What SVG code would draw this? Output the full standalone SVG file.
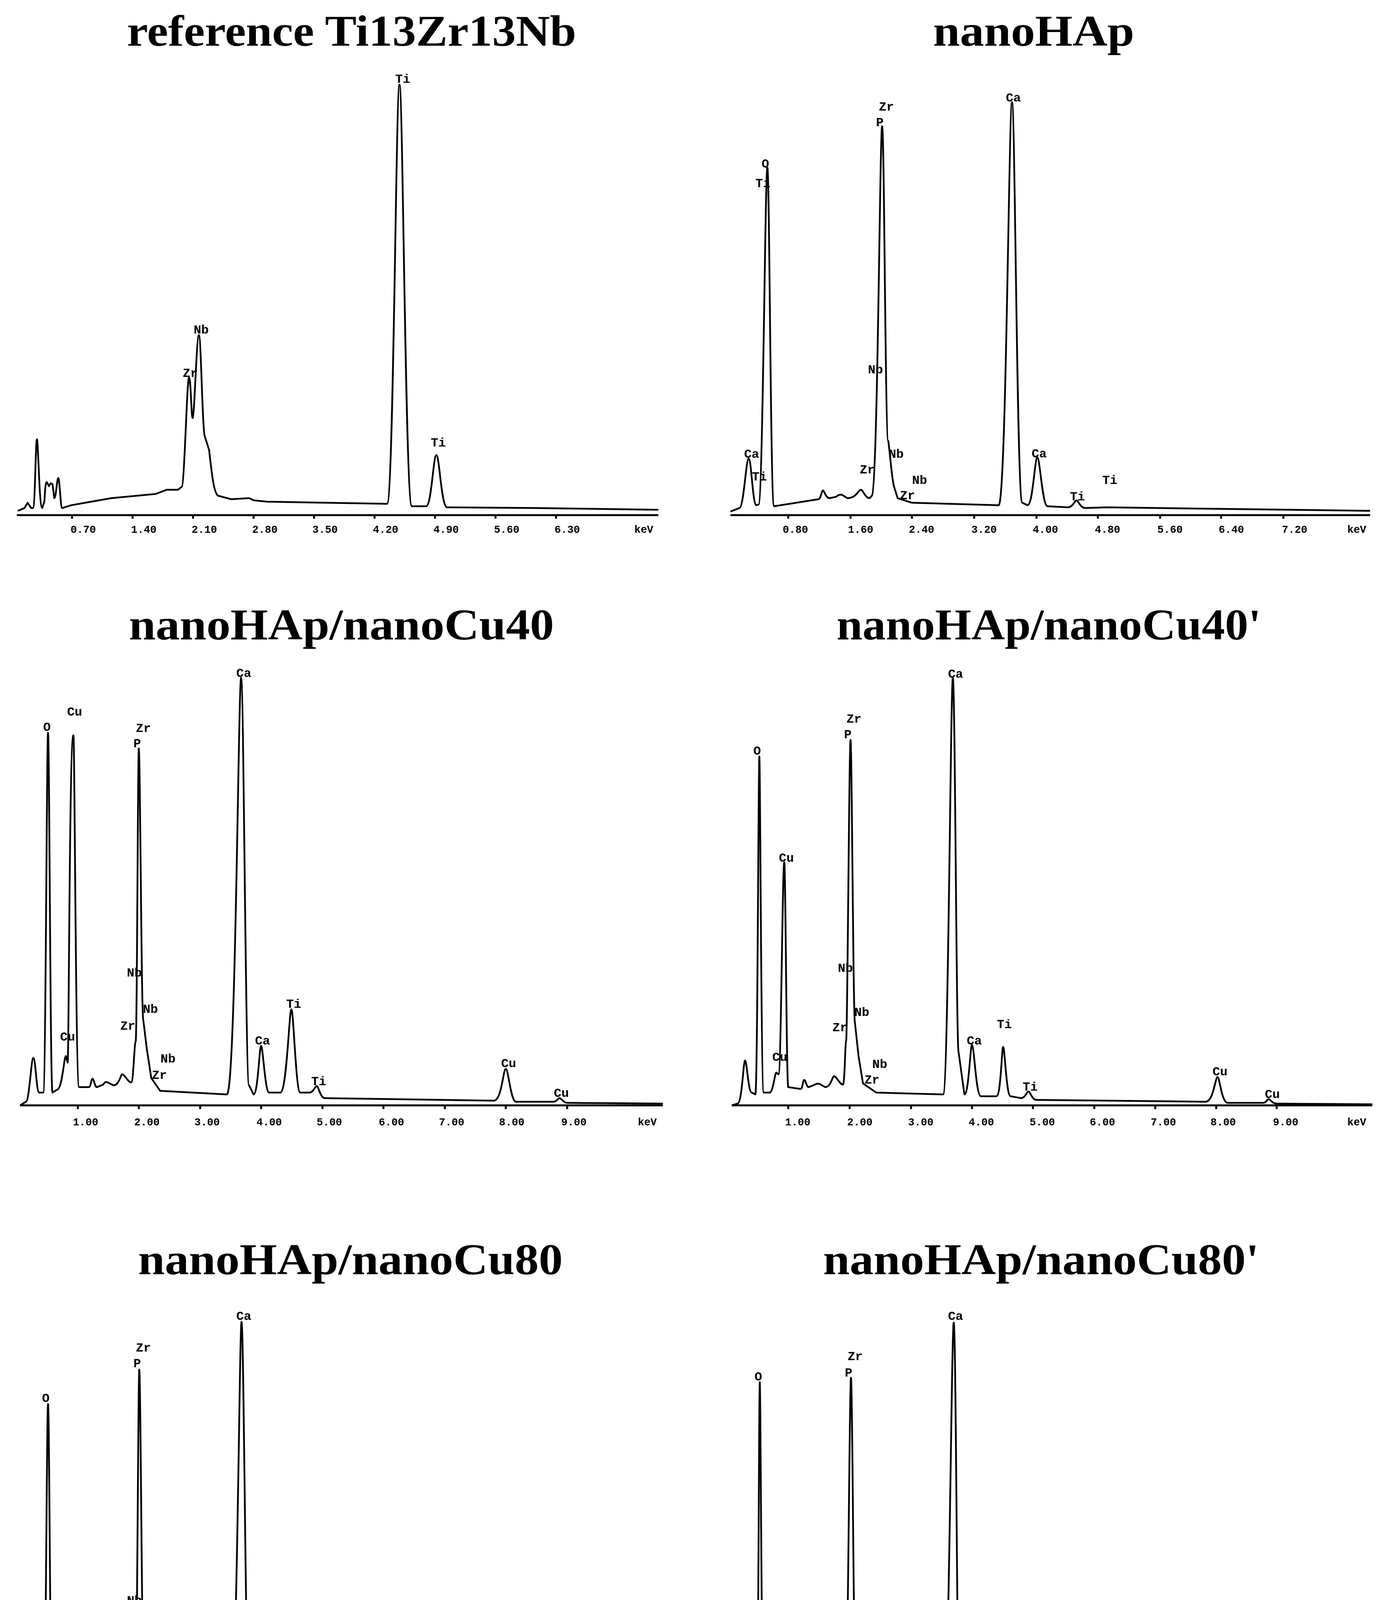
<svg xmlns="http://www.w3.org/2000/svg" width="3530" height="4529" viewBox="0 0 3530 4529">
<style>
.sp{fill:none;stroke:#000;stroke-width:4.5;vector-effect:non-scaling-stroke;stroke-linejoin:round}
.ax{fill:none;stroke:#000;stroke-width:5;vector-effect:non-scaling-stroke}
.ti{font-family:"Liberation Serif",serif;font-weight:bold;font-size:112px;text-anchor:middle}
.lb{font-family:"Liberation Mono",monospace;font-weight:bold;font-size:32px;text-anchor:middle}
.tk{font-family:"Liberation Mono",monospace;font-weight:bold;font-size:27px;text-anchor:middle}
</style>
<rect width="3530" height="4529" fill="#fff"/>

<g id="panel1">
<text class="ti" x="900" y="117" textLength="1150" lengthAdjust="spacingAndGlyphs">reference Ti13Zr13Nb</text>
<g transform="scale(1.1387,0.9032)">
<path class="sp" d="M40,1448 L55,1440 L62,1425 L70,1440 L74,1440 C79,1440 80,1245 83,1245 C86,1245 88,1440 95,1440 L100,1420 C102,1365 104,1365 106,1368 L110,1378 L114,1370 L118,1372 L122,1412 C126,1412 128,1355 131,1355 C134,1355 136,1440 140,1440 L160,1432 L250,1412 L350,1400 L375,1388 L400,1388 L408,1380 C415,1380 420,1070 425,1070 C429,1070 430,1185 433,1185 C437,1185 442,950 447,950 C452,950 455,1220 460,1235 L470,1275 C476,1340 480,1395 490,1405 L520,1415 L560,1412 L570,1418 L600,1422 L870,1428 C885,1428 890,240 898,240 C906,240 911,1435 926,1435 L958,1435 C970,1435 974,1290 981,1290 C988,1290 992,1438 1005,1438 L1200,1440 L1480,1445"/>
<path class="ax" d="M38,1460 H1480 M162,1460 v10 M298,1460 v10 M434,1460 v10 M570,1460 v10 M706,1460 v10 M842,1460 v10 M978,1460 v10 M1114,1460 v10 M1250,1460 v10"/>
</g>
<text class="lb" x="1031" y="212">Ti</text><text class="lb" x="515" y="854">Nb</text><text class="lb" x="487" y="965">Zr</text><text class="lb" x="1122" y="1143">Ti</text>
<text class="tk" y="1364"><tspan x="213">0.70</tspan><tspan x="368">1.40</tspan><tspan x="523">2.10</tspan><tspan x="678">2.80</tspan><tspan x="832">3.50</tspan><tspan x="987">4.20</tspan><tspan x="1142">4.90</tspan><tspan x="1297">5.60</tspan><tspan x="1452">6.30</tspan><tspan x="1648">keV</tspan></text>
</g>

<g id="panel2">
<text class="ti" x="2646" y="117" textLength="515" lengthAdjust="spacingAndGlyphs">nanoHAp</text>
<g transform="translate(1765,0) scale(1.1387,0.9032)">
<path class="sp" d="M92,1450 L112,1440 C122,1440 127,1300 133,1300 C139,1300 142,1430 150,1432 L155,1430 C165,1430 170,475 175,475 C180,475 182,1432 190,1435 L290,1415 C295,1415 297,1390 300,1390 C303,1390 306,1412 315,1412 L330,1408 C335,1402 338,1402 342,1402 L355,1412 C375,1412 380,1388 385,1388 C390,1388 395,1412 405,1412 L410,1405 C423,1390 428,358 433,358 C438,358 440,1250 447,1250 C452,1300 455,1360 460,1380 L468,1412 L500,1425 L695,1432 C712,1432 718,290 725,290 C732,290 736,1420 748,1425 L760,1432 C772,1432 776,1297 782,1297 C788,1297 793,1435 805,1435 L850,1438 C862,1438 866,1418 870,1418 C874,1418 878,1440 890,1440 L940,1438 L1530,1448"/>
<path class="ax" d="M92,1460 H1530 M222,1460 v10 M362,1460 v10 M500,1460 v10 M640,1460 v10 M780,1460 v10 M918,1460 v10 M1058,1460 v10 M1195,1460 v10 M1335,1460 v10"/>
</g>
<text class="lb" x="1959" y="429">O</text><text class="lb" x="1953" y="479">Ti</text><text class="lb" x="2269" y="283">Zr</text><text class="lb" x="2252" y="323">P</text><text class="lb" x="2594" y="260">Ca</text><text class="lb" x="2241" y="956">Nb</text><text class="lb" x="1924" y="1172">Ca</text><text class="lb" x="1944" y="1230">Ti</text><text class="lb" x="2220" y="1212">Zr</text><text class="lb" x="2294" y="1172">Nb</text><text class="lb" x="2354" y="1239">Nb</text><text class="lb" x="2323" y="1278">Zr</text><text class="lb" x="2660" y="1171">Ca</text><text class="lb" x="2758" y="1281">Ti</text><text class="lb" x="2841" y="1239">Ti</text>
<text class="tk" y="1364"><tspan x="2036">0.80</tspan><tspan x="2203">1.60</tspan><tspan x="2359">2.40</tspan><tspan x="2519">3.20</tspan><tspan x="2676">4.00</tspan><tspan x="2835">4.80</tspan><tspan x="2995">5.60</tspan><tspan x="3152">6.40</tspan><tspan x="3314">7.20</tspan><tspan x="3473">keV</tspan></text>
</g>

<g id="panel3">
<text class="ti" x="874" y="1637" textLength="1088" lengthAdjust="spacingAndGlyphs">nanoHAp/nanoCu40</text>
<g transform="translate(0,1450) scale(1.1387,0.9355)">
<path class="sp" d="M45,1475 L58,1465 C66,1465 70,1345 75,1345 C80,1345 82,1440 88,1440 L97,1440 C103,1440 105,455 108,455 C111,455 113,1440 118,1440 L128,1432 C140,1432 144,1340 148,1340 L152,1358 C155,1358 156,462 165,462 C168,462 170,1425 178,1425 L200,1425 C204,1425 205,1402 208,1402 C211,1402 213,1425 218,1425 L232,1418 C236,1410 238,1410 242,1412 L255,1420 C268,1420 271,1390 275,1390 C280,1390 288,1412 295,1412 C300,1412 302,1300 305,1300 C308,1300 310,498 312,498 C315,498 318,1240 322,1240 L330,1320 L340,1400 L360,1435 L510,1445 C530,1445 536,305 542,305 C548,305 552,1420 560,1420 L570,1445 C580,1445 583,1312 587,1312 C591,1312 596,1440 605,1440 L630,1440 C645,1440 650,1212 655,1212 C660,1212 665,1440 675,1440 L695,1440 C705,1440 708,1422 712,1422 C716,1422 720,1455 730,1455 L1110,1462 C1128,1462 1131,1375 1137,1375 C1143,1375 1148,1465 1160,1465 L1245,1465 C1252,1465 1254,1455 1258,1455 C1262,1455 1266,1468 1275,1468 L1490,1470"/>
<path class="ax" d="M45,1475 H1490 M175,1475 v10 M312,1475 v10 M450,1475 v10 M587,1475 v10 M725,1475 v10 M862,1475 v10 M1000,1475 v10 M1137,1475 v10 M1275,1475 v10"/>
</g>
<text class="lb" x="191" y="1832">Cu</text><text class="lb" x="120" y="1871">O</text><text class="lb" x="367" y="1874">Zr</text><text class="lb" x="351" y="1913">P</text><text class="lb" x="624" y="1733">Ca</text><text class="lb" x="344" y="2500">Nb</text><text class="lb" x="385" y="2593">Nb</text><text class="lb" x="327" y="2636">Zr</text><text class="lb" x="173" y="2664">Cu</text><text class="lb" x="430" y="2720">Nb</text><text class="lb" x="408" y="2762">Zr</text><text class="lb" x="672" y="2674">Ca</text><text class="lb" x="752" y="2580">Ti</text><text class="lb" x="816" y="2778">Ti</text><text class="lb" x="1302" y="2732">Cu</text><text class="lb" x="1437" y="2808">Cu</text>
<text class="tk" y="2881"><tspan x="219">1.00</tspan><tspan x="376">2.00</tspan><tspan x="530">3.00</tspan><tspan x="689">4.00</tspan><tspan x="843">5.00</tspan><tspan x="1002">6.00</tspan><tspan x="1156">7.00</tspan><tspan x="1310">8.00</tspan><tspan x="1469">9.00</tspan><tspan x="1657">keV</tspan></text>
</g>

<g id="panel4">
<text class="ti" x="2685" y="1637" textLength="1087" lengthAdjust="spacingAndGlyphs">nanoHAp/nanoCu40'</text>
<g transform="translate(1765,1450) scale(1.1387,0.9355)">
<path class="sp" d="M95,1475 L108,1470 C118,1470 121,1352 125,1352 C129,1352 132,1440 140,1440 L148,1445 C153,1445 155,520 157,520 C159,520 161,1440 167,1440 L180,1440 C188,1440 192,1385 195,1385 L200,1390 C206,1390 209,810 213,810 C216,810 218,1425 222,1425 L250,1430 C254,1430 255,1405 258,1405 C261,1405 263,1425 268,1425 L282,1418 C286,1415 288,1415 292,1416 L305,1425 C318,1425 321,1395 325,1395 C330,1395 338,1418 345,1418 C349,1418 350,1300 352,1300 C355,1300 359,475 362,475 C365,475 368,1250 372,1250 L380,1340 L390,1415 L420,1440 L570,1445 C582,1445 587,305 592,305 C597,305 600,1330 605,1330 L618,1445 C628,1445 631,1310 635,1310 C640,1310 644,1450 655,1450 L690,1450 C700,1450 702,1315 705,1315 C709,1315 712,1450 722,1450 L745,1455 C755,1455 758,1437 762,1437 C766,1437 770,1460 780,1460 L1160,1465 C1178,1465 1182,1397 1187,1397 C1192,1397 1196,1468 1210,1468 L1290,1468 C1297,1468 1298,1458 1302,1458 C1306,1458 1309,1470 1320,1470 L1535,1472"/>
<path class="ax" d="M95,1475 H1535 M222,1475 v10 M360,1475 v10 M498,1475 v10 M635,1475 v10 M772,1475 v10 M910,1475 v10 M1047,1475 v10 M1184,1475 v10 M1320,1475 v10"/>
</g>
<text class="lb" x="2446" y="1735">Ca</text><text class="lb" x="2186" y="1850">Zr</text><text class="lb" x="2170" y="1890">P</text><text class="lb" x="1938" y="1932">O</text><text class="lb" x="2013" y="2206">Cu</text><text class="lb" x="2164" y="2488">Nb</text><text class="lb" x="2206" y="2601">Nb</text><text class="lb" x="2150" y="2640">Zr</text><text class="lb" x="1996" y="2716">Cu</text><text class="lb" x="2252" y="2734">Nb</text><text class="lb" x="2232" y="2774">Zr</text><text class="lb" x="2494" y="2674">Ca</text><text class="lb" x="2571" y="2632">Ti</text><text class="lb" x="2637" y="2792">Ti</text><text class="lb" x="3123" y="2753">Cu</text><text class="lb" x="3257" y="2811">Cu</text>
<text class="tk" y="2881"><tspan x="2042">1.00</tspan><tspan x="2201">2.00</tspan><tspan x="2357">3.00</tspan><tspan x="2512">4.00</tspan><tspan x="2668">5.00</tspan><tspan x="2822">6.00</tspan><tspan x="2978">7.00</tspan><tspan x="3131">8.00</tspan><tspan x="3291">9.00</tspan><tspan x="3473">keV</tspan></text>
</g>

<g id="panel5">
<text class="ti" x="897" y="3262" textLength="1087" lengthAdjust="spacingAndGlyphs">nanoHAp/nanoCu80</text>
<g transform="translate(0,3050) scale(1.1387,0.9542)">
<path class="sp" d="M45,1472 L58,1462 C66,1462 69,1350 73,1350 C77,1350 80,1440 85,1440 L97,1445 C103,1445 105,570 108,570 C111,570 113,1445 118,1445 L135,1440 L148,1430 L155,1400 C160,1400 162,1305 165,1305 C168,1305 170,1430 175,1430 L200,1428 C204,1428 205,1405 208,1405 C211,1405 214,1428 220,1428 L232,1420 C236,1415 238,1415 242,1416 L255,1425 C268,1425 271,1392 275,1392 C280,1392 288,1420 295,1420 C300,1420 302,1300 305,1300 C308,1300 311,478 313,478 C316,478 319,1230 322,1230 L330,1330 L340,1405 L360,1438 L515,1445 C533,1445 538,350 543,350 C548,350 553,1400 560,1400 L570,1445 C580,1445 583,1320 587,1320 C591,1320 596,1445 605,1445 L635,1445 C645,1445 650,1315 655,1315 C660,1315 665,1448 675,1448 L695,1450 C705,1450 708,1440 712,1440 C716,1440 720,1458 730,1458 L1115,1465 C1128,1465 1132,1448 1137,1448 C1142,1448 1148,1466 1160,1466 L1250,1466 L1258,1462 L1270,1468 L1490,1470"/>
<path class="ax" d="M45,1470 H1490 M172,1470 v10 M310,1470 v10 M448,1470 v10 M585,1470 v10 M722,1470 v10 M860,1470 v10 M997,1470 v10 M1135,1470 v10 M1272,1470 v10"/>
</g>
<text class="lb" x="624" y="3379">Ca</text><text class="lb" x="367" y="3460">Zr</text><text class="lb" x="351" y="3500">P</text><text class="lb" x="117" y="3589">O</text><text class="lb" x="344" y="4107">Nb</text><text class="lb" x="327" y="4212">Zr</text><text class="lb" x="191" y="4290">Cu</text><text class="lb" x="385" y="4281">Nb</text><text class="lb" x="430" y="4359">Nb</text><text class="lb" x="176" y="4403">Cu</text><text class="lb" x="408" y="4403">Zr</text><text class="lb" x="672" y="4305">Ca</text><text class="lb" x="752" y="4264">Ti</text><text class="lb" x="816" y="4419">Ti</text><text class="lb" x="1304" y="4429">Cu</text><text class="lb" x="1437" y="4445">Cu</text>
<text class="tk" y="4505"><tspan x="219">1.00</tspan><tspan x="376">2.00</tspan><tspan x="530">3.00</tspan><tspan x="683">4.00</tspan><tspan x="843">5.00</tspan><tspan x="996">6.00</tspan><tspan x="1152">7.00</tspan><tspan x="1310">8.00</tspan><tspan x="1466">9.00</tspan><tspan x="1657">keV</tspan></text>
</g>

<g id="panel6">
<text class="ti" x="2665" y="3262" textLength="1116" lengthAdjust="spacingAndGlyphs">nanoHAp/nanoCu80'</text>
<g transform="translate(1765,3050) scale(1.1387,0.9542)">
<path class="sp" d="M95,1472 L108,1465 C118,1465 122,1340 126,1340 C130,1340 133,1440 140,1440 L150,1440 C155,1440 156,512 158,512 C160,512 162,1445 168,1445 L185,1440 L198,1410 L205,1412 C211,1412 213,1185 215,1185 C217,1185 219,1425 224,1425 L250,1425 C254,1425 255,1402 258,1402 C261,1402 264,1425 270,1425 L282,1416 C286,1412 288,1412 292,1413 L305,1420 C318,1420 321,1388 325,1388 C330,1388 338,1418 345,1418 C349,1418 350,1300 352,1300 C356,1300 360,500 363,500 C366,500 369,1230 372,1230 L380,1330 L395,1420 L425,1438 L570,1445 C583,1445 589,352 594,352 C599,352 602,1380 606,1380 L618,1445 C629,1445 633,1320 637,1320 C641,1320 645,1448 655,1448 L690,1450 C700,1450 702,1265 705,1265 C709,1265 712,1450 722,1450 L745,1455 C755,1455 759,1430 763,1430 C767,1430 771,1460 780,1460 L1165,1462 C1180,1462 1183,1435 1187,1435 C1191,1435 1195,1465 1205,1465 L1320,1466 L1535,1468"/>
<path class="ax" d="M95,1470 H1535 M222,1470 v10 M360,1470 v10 M497,1470 v10 M635,1470 v10 M772,1470 v10 M910,1470 v10 M1047,1470 v10 M1184,1470 v10 M1320,1470 v10"/>
</g>
<text class="lb" x="2446" y="3379">Ca</text><text class="lb" x="2189" y="3482">Zr</text><text class="lb" x="2172" y="3524">P</text><text class="lb" x="1941" y="3534">O</text><text class="lb" x="2016" y="4176">Cu</text><text class="lb" x="2166" y="4123">Nb</text><text class="lb" x="2207" y="4226">Nb</text><text class="lb" x="2150" y="4264">Zr</text><text class="lb" x="1998" y="4388">Cu</text><text class="lb" x="2255" y="4352">Nb</text><text class="lb" x="2232" y="4394">Zr</text><text class="lb" x="2496" y="4305">Ca</text><text class="lb" x="2573" y="4254">Ti</text><text class="lb" x="2640" y="4410">Ti</text><text class="lb" x="3123" y="4415">Cu</text><text class="lb" x="3259" y="4441">Cu</text>
<text class="tk" y="4505"><tspan x="2042">1.00</tspan><tspan x="2201">2.00</tspan><tspan x="2355">3.00</tspan><tspan x="2511">4.00</tspan><tspan x="2665">5.00</tspan><tspan x="2821">6.00</tspan><tspan x="2978">7.00</tspan><tspan x="3131">8.00</tspan><tspan x="3291">9.00</tspan><tspan x="3473">keV</tspan></text>
</g>
</svg>
